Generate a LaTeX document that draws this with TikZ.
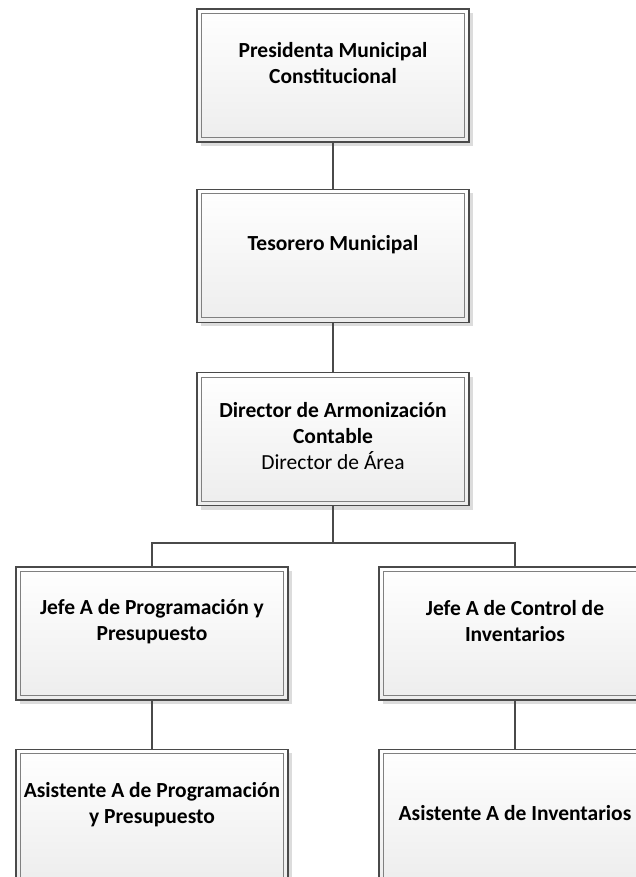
\documentclass[tikz,border=0pt]{standalone}
\usepackage{fontspec}
\setmainfont{Carlito}
\usetikzlibrary{positioning, shadows}

\definecolor{linegray}{HTML}{4A4A4A}
\definecolor{innergray}{HTML}{808080}
\definecolor{shadowgray}{HTML}{DCDCDC}
\definecolor{fillgray}{HTML}{EDEDED}

\tikzset{
  orgbox/.style={rectangle, draw=linegray, line width=1.3pt, inner sep=0pt,
    minimum width=272pt, minimum height=133pt,
    top color=white, bottom color=fillgray,
    drop shadow={shadow xshift=4pt, shadow yshift=-4pt, fill=shadowgray, opacity=1},
    path picture={\draw[innergray, line width=1pt]
      ([shift={(4.5pt,-4.5pt)}]path picture bounding box.north west) rectangle
      ([shift={(-4.5pt,4.5pt)}]path picture bounding box.south east);}},
  orgtext/.style={align=center, font=\fontsize{21.5}{26}\selectfont},
  link/.style={draw=linegray, line width=2.2pt},
}

\begin{document}
\begin{tikzpicture}[x=1pt, y=1pt]
    \useasboundingbox (0,0) rectangle (636,-877);
    \clip (0,0) rectangle (636,-877);

    % boxes
    \node[orgbox] (presidenta) at (333,-75.5) {};
    \node[orgbox] (tesorero) [below=46pt of presidenta] {};
    \node[orgbox] (director) [below=49pt of tesorero] {};
    \node[orgbox] (jefeprog) [below=60pt of director, xshift=-181pt] {};
    \node[orgbox] (jefeinv) [below=60pt of director, xshift=182pt] {};
    \node[orgbox] (asisprog) [below=48pt of jefeprog] {};
    \node[orgbox] (asisinv) [below=48pt of jefeinv] {};

    % texts
    \node[orgtext] (presidenta-txt) at ([yshift=12pt]presidenta.center)
        {\textbf{Presidenta Municipal}\\\textbf{Constitucional}};
    \node[orgtext] (tesorero-txt) at ([yshift=11pt]tesorero.center)
        {\textbf{Tesorero Municipal}};
    \node[orgtext] (director-txt) at ([yshift=3pt]director.center)
        {\textbf{Director de Armonización}\\\textbf{Contable}\\Director de Área};
    \node[orgtext] (jefeprog-txt) at ([yshift=12pt]jefeprog.center)
        {\textbf{Jefe A de Programación y}\\\textbf{Presupuesto}};
    \node[orgtext] (jefeinv-txt) at ([yshift=12pt]jefeinv.center)
        {\textbf{Jefe A de Control de}\\\textbf{Inventarios}};
    \node[orgtext] (asisprog-txt) at ([yshift=11pt]asisprog.center)
        {\textbf{Asistente A de Programación}\\\textbf{y Presupuesto}};
    \node[orgtext] (asisinv-txt) at ([yshift=3pt]asisinv.center)
        {\textbf{Asistente A de Inventarios}};

    % connectors
    \coordinate (split) at ([yshift=-37pt]director.south);
    \draw[link] (presidenta) -- (tesorero);
    \draw[link] (tesorero) -- (director);
    \draw[link] (director) -- (split);
    \draw[link] (jefeprog.north) |- (split) -| (jefeinv.north);
    \draw[link] (jefeprog) -- (asisprog);
    \draw[link] (jefeinv) -- (asisinv);
\end{tikzpicture}
\end{document}
